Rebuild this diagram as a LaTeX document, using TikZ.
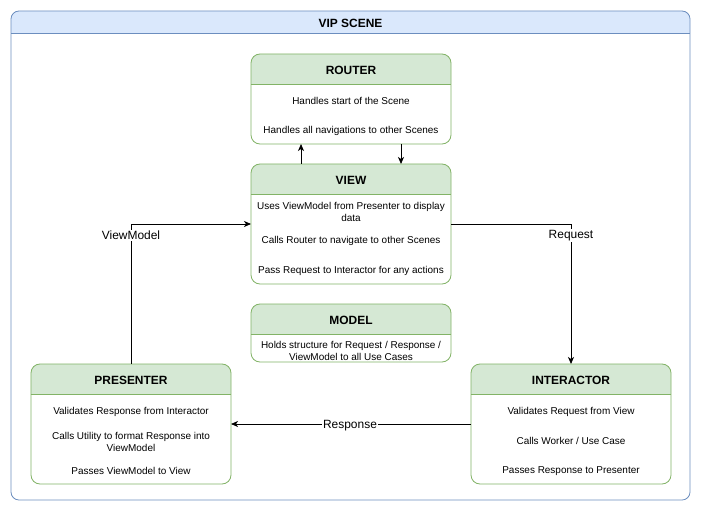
\documentclass[tikz,border=0pt]{standalone}
\usepackage{fontspec}
\setmainfont{Liberation Sans}
\usetikzlibrary{arrows.meta}
\definecolor{gfill}{HTML}{D5E8D4}
\definecolor{gline}{HTML}{82B366}
\definecolor{bfill}{HTML}{DAE8FC}
\definecolor{bline}{HTML}{6C8EBF}
\tikzset{
  boxbody/.style={draw=none, fill=white, inner sep=0pt, outer sep=0pt, rectangle},
  titletext/.style={font=\fontsize{12}{14}\selectfont\bfseries, inner sep=0pt, yshift=-1bp},
  bodytext/.style={font=\fontsize{10}{12}\selectfont, align=center, inner sep=0pt, yshift=-1.2bp},
  lbltext/.style={font=\fontsize{12}{14}\selectfont, fill=white, inner sep=1bp, yshift=-1.5bp},
  conn/.style={draw=black, line width=0.8bp, -{Stealth[length=7bp,width=6bp,inset=2bp]}},
}
\newcommand{\vipbox}[6]{%
  \node[boxbody, minimum width=#4, minimum height=#5, anchor=north] (#1) at (#2,#3) {};
  \begin{scope}
    \clip (#1.north west) rectangle ([yshift=-30bp]#1.north east);
    \fill[gfill, rounded corners=9bp] (#1.north west) rectangle (#1.south east);
  \end{scope}
  \draw[gline, line width=0.8bp, rounded corners=9bp] (#1.north west) rectangle (#1.south east);
  \draw[gline, line width=0.8bp] ([yshift=-30bp]#1.north west) -- ([yshift=-30bp]#1.north east);
  \node[titletext] (#1-title) at ([yshift=-15bp]#1.north) {#6};
}
\begin{document}
\begin{tikzpicture}[x=1bp,y=-1bp]
\useasboundingbox (0,0) rectangle (701,511);
% container
\node[boxbody, minimum width=679bp, minimum height=489bp, anchor=north west] (scene) at (11,11) {};
\begin{scope}
  \clip (scene.north west) rectangle ([yshift=-22bp]scene.north east);
  \fill[bfill, rounded corners=8bp] (scene.north west) rectangle (scene.south east);
\end{scope}
\draw[bline, line width=0.8bp, rounded corners=8bp] (scene.north west) rectangle (scene.south east);
\draw[bline, line width=0.8bp] ([yshift=-22bp]scene.north west) -- ([yshift=-22bp]scene.north east);
\node[titletext] (scene-title) at ([yshift=-11bp]scene.north) {VIP SCENE};

% boxes
\vipbox{router}{351}{54}{200bp}{90bp}{ROUTER}
\node[bodytext] (r1) at (351,100) {Handles start of the Scene};
\node[bodytext] (r2) at (351,130) {Handles all navigations to other Scenes};

\vipbox{view}{351}{164}{200bp}{120bp}{VIEW}
\node[bodytext] (v1) at (351,211) {Uses ViewModel from Presenter to display\\data};
\node[bodytext] (v2) at (351,240) {Calls Router to navigate to other Scenes};
\node[bodytext] (v3) at (351,270) {Pass Request to Interactor for any actions};

\vipbox{model}{351}{304}{200bp}{58bp}{MODEL}
\node[bodytext] (m1) at (351,349.5) {Holds structure for Request / Response /\\ViewModel to all Use Cases};

\vipbox{presenter}{131}{364}{200bp}{120bp}{PRESENTER}
\node[bodytext] (p1) at (131,411) {Validates Response from Interactor};
\node[bodytext] (p2) at (131,440.5) {Calls Utility to format Response into\\ViewModel};
\node[bodytext] (p3) at (131,470) {Passes ViewModel to View};

\vipbox{interactor}{571}{364}{200bp}{120bp}{INTERACTOR}
\node[bodytext] (i1) at (571,411) {Validates Request from View};
\node[bodytext] (i2) at (571,440) {Calls Worker / Use Case};
\node[bodytext] (i3) at (571,470) {Passes Response to Presenter};

% connectors
\draw[conn] (view.north west -| 301,0) -- (router.south west -| 301,0);
\draw[conn] (router.south west -| 401,0) -- (view.north west -| 401,0);

\coordinate (vmcorner) at (131,224);
\draw[conn] (presenter.north) -- (vmcorner) -- (view.west |- vmcorner);
\node[lbltext] (vmlabel) at (131,234) {ViewModel};

\coordinate (rqcorner) at (571,224);
\draw[conn] (view.east |- rqcorner) -- (rqcorner) -- (interactor.north);
\node[lbltext] (rqlabel) at (571,234) {Request};

\draw[conn] (interactor.west |- 0,424) -- (presenter.east |- 0,424);
\node[lbltext] (rslabel) at (350,424) {Response};
\end{tikzpicture}
\end{document}
